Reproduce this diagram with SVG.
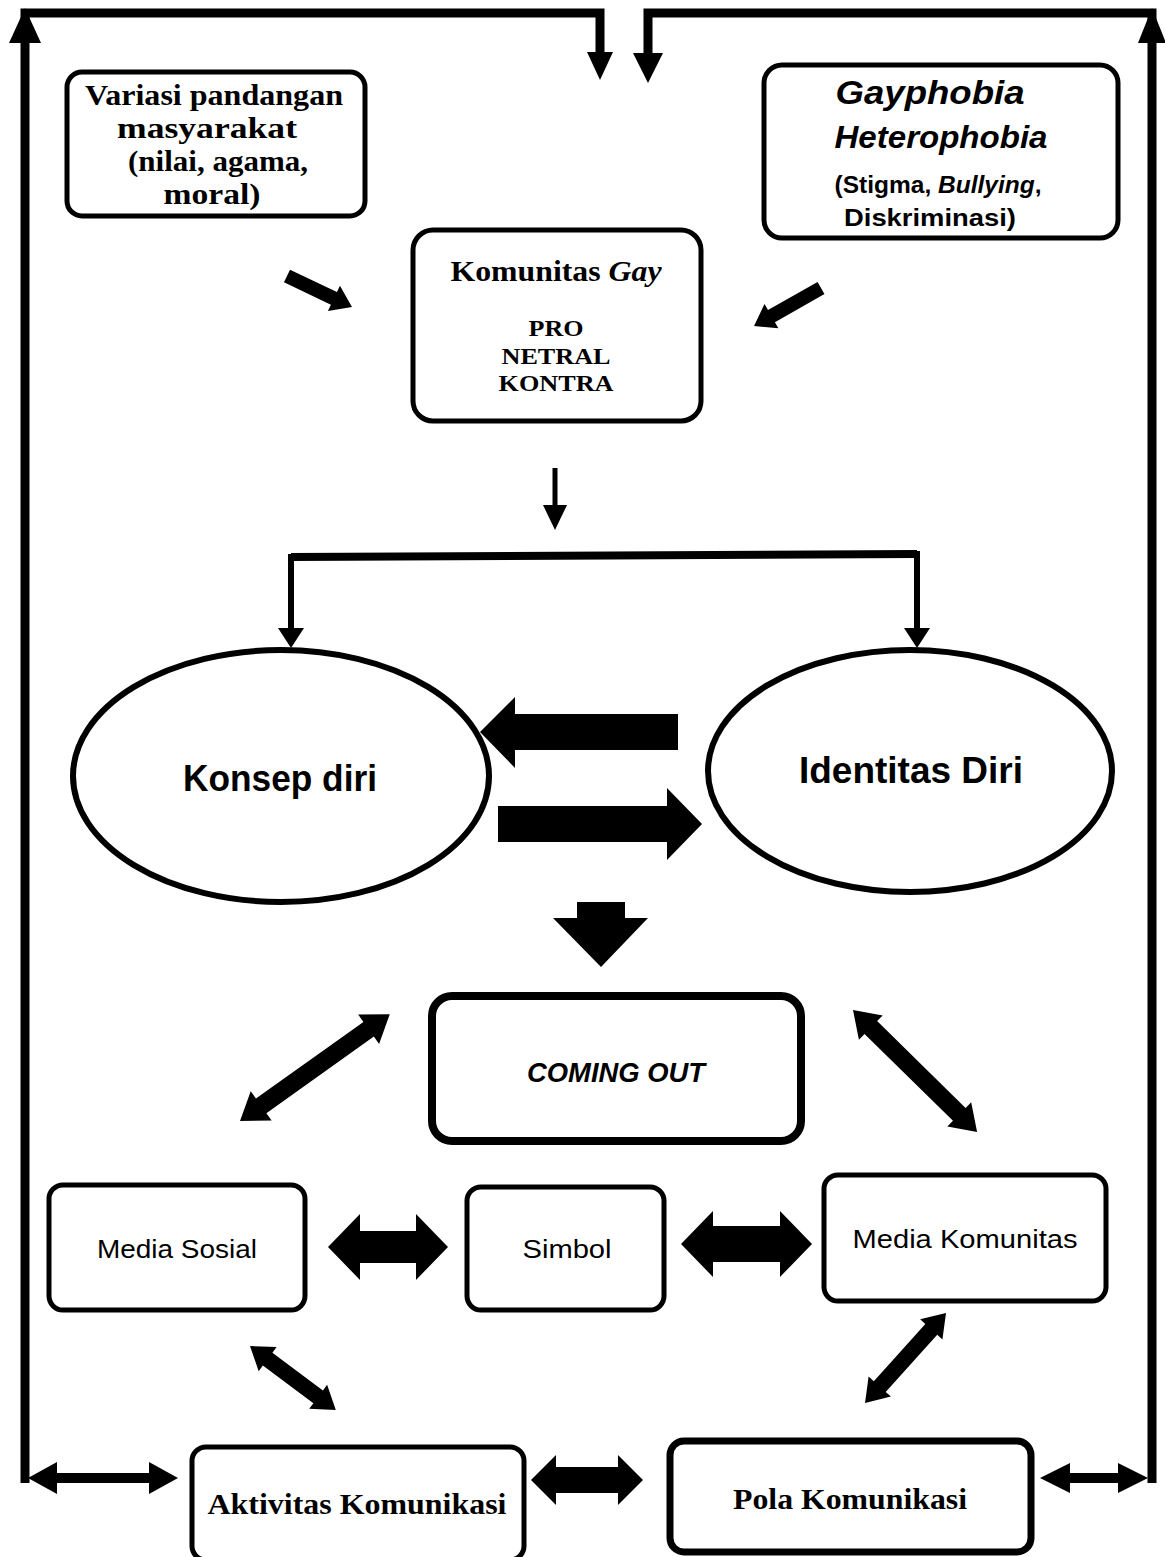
<svg xmlns="http://www.w3.org/2000/svg" width="1165" height="1557" viewBox="0 0 1165 1557">
<style>
.box{fill:#fff;stroke:#000;stroke-width:5}
.ln{fill:none;stroke:#000;stroke-width:9;stroke-linejoin:miter}
.ar{fill:#000;stroke:none}
.serif{font-family:"Liberation Serif","Times New Roman",serif;font-weight:bold;fill:#000}
.sans{font-family:"Liberation Sans",Arial,sans-serif;fill:#000}
.b{font-weight:bold}
.i{font-style:italic}
</style>
<rect width="1165" height="1557" fill="#fff"/>
<g id="connectors">
  <path class="ln" d="M25,1483 V13 H600 V54"/>
  <polygon class="ar" points="587,52 613,52 600,80"/>
  <polygon class="ar" points="25,8 9,43 41,43"/>
  <path class="ln" d="M1152,1483 V13 H648 V55"/>
  <polygon class="ar" points="633,53 663,53 648,83"/>
  <polygon class="ar" points="1152,8 1138,43 1166,43"/>
  <polygon class="ar" points="0,-7 52,-7 52,-14 72,0 52,14 52,7 0,7" transform="translate(287,276) rotate(25.5)"/>
  <polygon class="ar" points="0,-7 57,-7 57,-14 77,0 57,14 57,7 0,7" transform="translate(821,288) rotate(150.4)"/>
  <line x1="555" y1="468" x2="555" y2="507" stroke="#000" stroke-width="5"/>
  <polygon class="ar" points="543,505 567,505 555,530"/>
  <path d="M291,630 V557 L917,554 V630" fill="none" stroke="#000" stroke-width="6"/>
  <line x1="291" y1="557" x2="917" y2="554" stroke="#000" stroke-width="8"/>
  <polygon class="ar" points="278,628 304,628 291,648"/>
  <polygon class="ar" points="904,628 930,628 917,648"/>
  <polygon class="ar" points="480,732 515,697 515,714 678,714 678,750 515,750 515,768"/>
  <polygon class="ar" points="498,806 667,806 667,788 702,824 667,860 667,842 498,842"/>
  <polygon class="ar" points="577,902 625,902 625,918 648,918 601,967 553,918 577,918"/>
  <polygon class="ar" points="0,0 26,-18 26,-9 158,-9 158,-18 184,0 158,18 158,9 26,9 26,18" transform="translate(240,1121) rotate(-35.5)"/>
  <polygon class="ar" points="0,0 25,-17 25,-9 149,-9 149,-17 174,0 149,17 149,9 25,9 25,17" transform="translate(853,1010) rotate(44.5)"/>
  <polygon class="ar" points="328,1247 360,1214 360,1231 416,1231 416,1214 448,1247 416,1280 416,1263 360,1263 360,1280"/>
  <polygon class="ar" points="681,1244 713,1211 713,1226 780,1226 780,1211 812,1244 780,1277 780,1262 713,1262 713,1277"/>
  <polygon class="ar" points="0,0 22,-15 22,-8 85,-8 85,-15 107,0 85,15 85,8 22,8 22,15" transform="translate(250,1346) rotate(36.7)"/>
  <polygon class="ar" points="0,0 22,-15 22,-8 99,-8 99,-15 121,0 99,15 99,8 22,8 22,15" transform="translate(946,1313) rotate(132)"/>
  <polygon class="ar" points="531,1480 556,1455 556,1467 618,1467 618,1455 643,1480 618,1505 618,1493 556,1493 556,1505"/>
  <polygon class="ar" points="28,1478 57,1462 57,1473 149,1473 149,1462 178,1478 149,1494 149,1483 57,1483 57,1494"/>
  <polygon class="ar" points="1040,1478 1070,1463 1070,1473 1118,1473 1118,1463 1148,1478 1118,1493 1118,1483 1070,1483 1070,1493"/>
</g>
<g id="node-variasi">
  <rect class="box" x="67" y="72" width="298" height="144" rx="15"/>
  <text class="serif" font-size="30" text-anchor="middle" x="214" y="105" textLength="258" lengthAdjust="spacingAndGlyphs">Variasi pandangan</text>
  <text class="serif" font-size="30" text-anchor="middle" x="207" y="138" textLength="180" lengthAdjust="spacingAndGlyphs">masyarakat</text>
  <text class="serif" font-size="30" text-anchor="middle" x="218" y="171" textLength="180" lengthAdjust="spacingAndGlyphs">(nilai, agama,</text>
  <text class="serif" font-size="30" text-anchor="middle" x="212" y="204" textLength="97" lengthAdjust="spacingAndGlyphs">moral)</text>
</g>
<g id="node-gayphobia">
  <rect class="box" x="764" y="65" width="354" height="173" rx="18"/>
  <text class="sans b i" font-size="34" text-anchor="middle" x="930" y="104" textLength="189" lengthAdjust="spacingAndGlyphs">Gayphobia</text>
  <text class="sans b i" font-size="32" text-anchor="middle" x="941" y="148" textLength="213" lengthAdjust="spacingAndGlyphs">Heterophobia</text>
  <text class="sans b" font-size="23" text-anchor="middle" x="938" y="193" textLength="207" lengthAdjust="spacingAndGlyphs">(Stigma, <tspan class="i">Bullying</tspan>,</text>
  <text class="sans b" font-size="23" text-anchor="middle" x="930" y="226" textLength="172" lengthAdjust="spacingAndGlyphs">Diskriminasi)</text>
</g>
<g id="node-komunitas">
  <rect class="box" x="413" y="230" width="288" height="191" rx="20"/>
  <text class="serif" font-size="30" text-anchor="middle" x="556" y="281" textLength="211" lengthAdjust="spacingAndGlyphs">Komunitas <tspan class="i">Gay</tspan></text>
  <text class="serif" font-size="24" text-anchor="middle" x="556" y="336" textLength="55" lengthAdjust="spacingAndGlyphs">PRO</text>
  <text class="serif" font-size="24" text-anchor="middle" x="556" y="364" textLength="109" lengthAdjust="spacingAndGlyphs">NETRAL</text>
  <text class="serif" font-size="24" text-anchor="middle" x="556" y="391" textLength="115" lengthAdjust="spacingAndGlyphs">KONTRA</text>
</g>
<g id="node-konsep">
  <ellipse cx="281" cy="776" rx="208" ry="126" fill="#fff" stroke="#000" stroke-width="6"/>
  <text class="sans b" font-size="36" text-anchor="middle" x="280" y="791" textLength="194" lengthAdjust="spacingAndGlyphs">Konsep diri</text>
</g>
<g id="node-identitas">
  <ellipse cx="910" cy="771" rx="202" ry="121" fill="#fff" stroke="#000" stroke-width="6"/>
  <text class="sans b" font-size="36" text-anchor="middle" x="911" y="783" textLength="224" lengthAdjust="spacingAndGlyphs">Identitas Diri</text>
</g>
<g id="node-coming-out">
  <rect class="box" x="432" y="996" width="369" height="145" rx="20" style="stroke-width:8"/>
  <text class="sans b i" font-size="27" text-anchor="middle" x="616" y="1082" textLength="178" lengthAdjust="spacingAndGlyphs">COMING OUT</text>
</g>
<g id="node-media-sosial">
  <rect class="box" x="49" y="1185" width="256" height="125" rx="14"/>
  <text class="sans" font-size="25" text-anchor="middle" x="177" y="1258" textLength="160" lengthAdjust="spacingAndGlyphs">Media Sosial</text>
</g>
<g id="node-simbol">
  <rect class="box" x="467" y="1187" width="197" height="123" rx="14"/>
  <text class="sans" font-size="25" text-anchor="middle" x="567" y="1258" textLength="89" lengthAdjust="spacingAndGlyphs">Simbol</text>
</g>
<g id="node-media-komunitas">
  <rect class="box" x="824" y="1175" width="282" height="126" rx="14"/>
  <text class="sans" font-size="26" text-anchor="middle" x="965" y="1248" textLength="225" lengthAdjust="spacingAndGlyphs">Media Komunitas</text>
</g>
<g id="node-aktivitas">
  <rect class="box" x="192" y="1447" width="332" height="113" rx="14"/>
  <text class="serif" font-size="30" text-anchor="middle" x="357" y="1514" textLength="299" lengthAdjust="spacingAndGlyphs">Aktivitas Komunikasi</text>
</g>
<g id="node-pola">
  <rect class="box" x="670" y="1441" width="361" height="111" rx="14" style="stroke-width:7"/>
  <text class="serif" font-size="30" text-anchor="middle" x="850" y="1509" textLength="234" lengthAdjust="spacingAndGlyphs">Pola Komunikasi</text>
</g>
</svg>
